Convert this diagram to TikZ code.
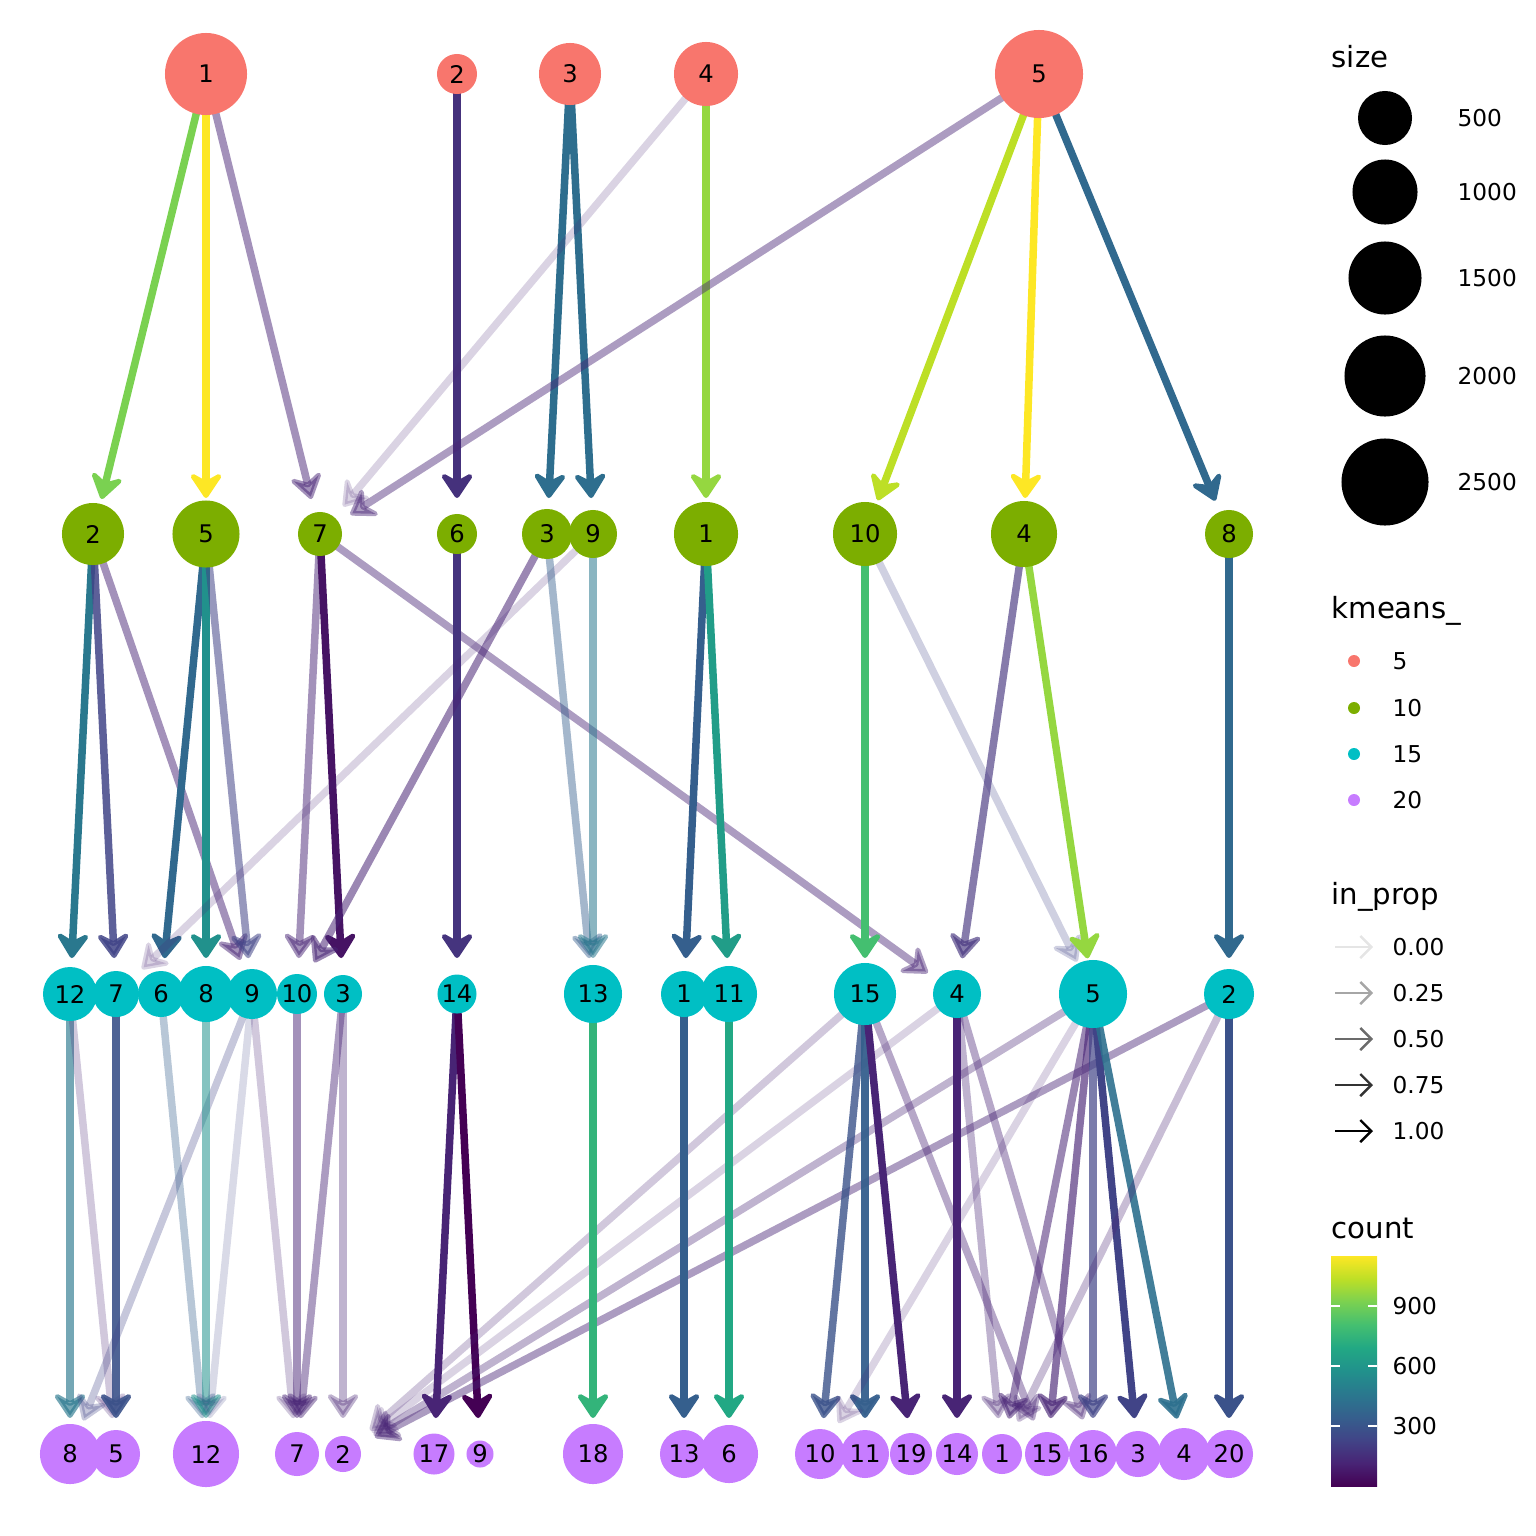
\documentclass[tikz,border=0pt]{standalone}
\usepackage{fontspec}
\setmainfont{DejaVu Sans}
\usetikzlibrary{arrows.meta,backgrounds}

\definecolor{kfive}{HTML}{F8766D}
\definecolor{kten}{HTML}{7CAE00}
\definecolor{kfifteen}{HTML}{00BFC4}
\definecolor{ktwenty}{HTML}{C77CFF}
% viridis samples, 0.0 .. 1.0
\definecolor{vA}{HTML}{440154}
\definecolor{vB}{HTML}{482475}
\definecolor{vC}{HTML}{414487}
\definecolor{vD}{HTML}{355F8D}
\definecolor{vE}{HTML}{2A788E}
\definecolor{vF}{HTML}{21918C}
\definecolor{vG}{HTML}{22A884}
\definecolor{vH}{HTML}{44BF70}
\definecolor{vI}{HTML}{7AD151}
\definecolor{vJ}{HTML}{BDDF26}
\definecolor{vK}{HTML}{FDE725}
\pgfdeclareverticalshading{viridis}{100bp}{color(0bp)=(vA); color(25bp)=(vA);
  color(30bp)=(vB); color(35bp)=(vC); color(40bp)=(vD); color(45bp)=(vE);
  color(50bp)=(vF); color(55bp)=(vG); color(60bp)=(vH); color(65bp)=(vI);
  color(70bp)=(vJ); color(75bp)=(vK); color(100bp)=(vK)}

\begin{document}
\begin{tikzpicture}[x=0.01cm,y=-0.01cm]
    \tikzstyle{clus} = [circle,inner sep=0pt,font=\fontsize{6.9pt}{8pt}\selectfont]
    \tikzstyle{kA} = [clus,fill=kfive]
    \tikzstyle{kB} = [clus,fill=kten]
    \tikzstyle{kC} = [clus,fill=kfifteen]
    \tikzstyle{kD} = [clus,fill=ktwenty]
    \tikzstyle{edge} = [line width=0.075cm,shorten >=0.36cm,
                        -{Stealth[length=0.30cm,width=0.40cm,inset=0.11cm,round]}]
    \tikzstyle{ttl} = [anchor=west,inner sep=0pt,font=\fontsize{8.3pt}{10pt}\selectfont]
    \tikzstyle{lab} = [anchor=west,inner sep=0pt,font=\fontsize{6.6pt}{8pt}\selectfont]
    \tikzstyle{key} = [line width=0.7pt,-{Straight Barb[length=0.11cm,width=0.22cm]}]
    \useasboundingbox (0,0) rectangle (1536,1536);
    % kmeans_5
    \node[kA,minimum size=.82cm] (a1) at (206,74) {1};
    \node[kA,minimum size=.40cm] (a2) at (457,74) {2};
    \node[kA,minimum size=.62cm] (a3) at (570,74) {3};
    \node[kA,minimum size=.64cm] (a4) at (706,74) {4};
    \node[kA,minimum size=.88cm] (a5) at (1039,74) {5};
    % kmeans_10
    \node[kB,minimum size=.62cm] (b2) at (93,534) {2};
    \node[kB,minimum size=.67cm] (b5) at (206,534) {5};
    \node[kB,minimum size=.44cm] (b7) at (320,534) {7};
    \node[kB,minimum size=.40cm] (b6) at (457,534) {6};
    \node[kB,minimum size=.50cm] (b3) at (547,534) {3};
    \node[kB,minimum size=.48cm] (b9) at (593,534) {9};
    \node[kB,minimum size=.64cm] (b1) at (706,534) {1};
    \node[kB,minimum size=.64cm] (b10) at (865,534) {10};
    \node[kB,minimum size=.66cm] (b4) at (1024,534) {4};
    \node[kB,minimum size=.48cm] (b8) at (1229,534) {8};
    % kmeans_15
    \node[kC,minimum size=.54cm] (c12) at (70,994) {12};
    \node[kC,minimum size=.46cm] (c7) at (116,994) {7};
    \node[kC,minimum size=.46cm] (c6) at (161,994) {6};
    \node[kC,minimum size=.56cm] (c8) at (206,994) {8};
    \node[kC,minimum size=.50cm] (c9) at (252,994) {9};
    \node[kC,minimum size=.40cm] (c10) at (297,994) {10};
    \node[kC,minimum size=.38cm] (c3) at (343,994) {3};
    \node[kC,minimum size=.39cm] (c14) at (457,994) {14};
    \node[kC,minimum size=.58cm] (c13) at (593,994) {13};
    \node[kC,minimum size=.46cm] (c1) at (684,994) {1};
    \node[kC,minimum size=.56cm] (c11) at (729,994) {11};
    \node[kC,minimum size=.62cm] (c15) at (865,994) {15};
    \node[kC,minimum size=.48cm] (c4) at (957,994) {4};
    \node[kC,minimum size=.68cm] (c5) at (1093,994) {5};
    \node[kC,minimum size=.50cm] (c2) at (1229,994) {2};
    % kmeans_20
    \node[kD,minimum size=.60cm] (d8) at (70,1454) {8};
    \node[kD,minimum size=.48cm] (d5) at (116,1454) {5};
    \node[kD,minimum size=.66cm] (d12) at (206,1454) {12};
    \node[kD,minimum size=.44cm] (d7) at (297,1454) {7};
    \node[kD,minimum size=.36cm] (d2) at (343,1454) {2};
    \node[kD,minimum size=.41cm] (d17) at (434,1454) {17};
    \node[kD,minimum size=.27cm] (d9) at (480,1454) {9};
    \node[kD,minimum size=.60cm] (d18) at (593,1454) {18};
    \node[kD,minimum size=.48cm] (d13) at (684,1454) {13};
    \node[kD,minimum size=.58cm] (d6) at (729,1454) {6};
    \node[kD,minimum size=.50cm] (d10) at (820,1454) {10};
    \node[kD,minimum size=.48cm] (d11) at (865,1454) {11};
    \node[kD,minimum size=.42cm] (d19) at (911,1454) {19};
    \node[kD,minimum size=.42cm] (d14) at (957,1454) {14};
    \node[kD,minimum size=.40cm] (d1) at (1002,1454) {1};
    \node[kD,minimum size=.44cm] (d15) at (1047,1454) {15};
    \node[kD,minimum size=.48cm] (d16) at (1093,1454) {16};
    \node[kD,minimum size=.46cm] (d3) at (1138,1454) {3};
    \node[kD,minimum size=.52cm] (d4) at (1184,1454) {4};
    \node[kD,minimum size=.48cm] (d20) at (1229,1454) {20};
    \begin{pgfonlayer}{background}
    % 5 -> 10
    \draw[edge,vI] (a1.center) -- (b2.center);
    \draw[edge,vK] (a1.center) -- (b5.center);
    \draw[edge,vB,opacity=.5] (a1.center) -- (b7.center);
    \draw[edge,vB!60!vC] (a2.center) -- (b6.center);
    \draw[edge,vE!60!vD] (a3.center) -- (b3.center);
    \draw[edge,vE!60!vD] (a3.center) -- (b9.center);
    \draw[edge,vB,opacity=.2] (a4.center) -- (b7.center);
    \draw[edge,vJ!40!vI] (a4.center) -- (b1.center);
    \draw[edge,vB,opacity=.45] (a5.center) -- (b7.center);
    \draw[edge,vJ] (a5.center) -- (b10.center);
    \draw[edge,vK] (a5.center) -- (b4.center);
    \draw[edge,vD!60!vE] (a5.center) -- (b8.center);
    % 10 -> 15
    \draw[edge,vE] (b2.center) -- (c12.center);
    \draw[edge,vC,opacity=.85] (b2.center) -- (c7.center);
    \draw[edge,vB,opacity=.5] (b2.center) -- (c9.center);
    \draw[edge,vD!60!vE] (b5.center) -- (c6.center);
    \draw[edge,vF] (b5.center) -- (c8.center);
    \draw[edge,vC,opacity=.55] (b5.center) -- (c9.center);
    \draw[edge,vB,opacity=.5] (b7.center) -- (c10.center);
    \draw[edge,vA!50!vB] (b7.center) -- (c3.center);
    \draw[edge,vB,opacity=.45] (b7.center) -- (c4.center);
    \draw[edge,vB!50!vC] (b6.center) -- (c14.center);
    \draw[edge,vB,opacity=.55] (b3.center) -- (c10.center);
    \draw[edge,vB,opacity=.2] (b9.center) -- (c7.center);
    \draw[edge,vD,opacity=.45] (b3.center) -- (c13.center);
    \draw[edge,vE,opacity=.55] (b9.center) -- (c13.center);
    \draw[edge,vD] (b1.center) -- (c1.center);
    \draw[edge,vG!50!vF] (b1.center) -- (c11.center);
    \draw[edge,vH] (b10.center) -- (c15.center);
    \draw[edge,vC,opacity=.25] (b10.center) -- (c5.center);
    \draw[edge,vC!50!vB,opacity=.65] (b4.center) -- (c4.center);
    \draw[edge,vJ!40!vI] (b4.center) -- (c5.center);
    \draw[edge,vD!60!vE] (b8.center) -- (c2.center);
    % 15 -> 20
    \draw[edge,vE,opacity=.65] (c12.center) -- (d8.center);
    \draw[edge,vB,opacity=.25] (c12.center) -- (d5.center);
    \draw[edge,vC!50!vD,opacity=.9] (c7.center) -- (d5.center);
    \draw[edge,vC,opacity=.3] (c9.center) -- (d8.center);
    \draw[edge,vD,opacity=.35] (c6.center) -- (d12.center);
    \draw[edge,vF,opacity=.55] (c8.center) -- (d12.center);
    \draw[edge,vC,opacity=.2] (c9.center) -- (d12.center);
    \draw[edge,vB,opacity=.25] (c9.center) -- (d7.center);
    \draw[edge,vB,opacity=.5] (c10.center) -- (d7.center);
    \draw[edge,vB,opacity=.45] (c3.center) -- (d7.center);
    \draw[edge,vB,opacity=.35] (c3.center) -- (d2.center);
    \draw[edge,vB] (c14.center) -- (d17.center);
    \draw[edge,vA] (c14.center) -- (d9.center);
    \draw[edge,vB,opacity=.25] (c15.center) -- (d2.center);
    \draw[edge,vB,opacity=.2] (c4.center) -- (d2.center);
    \draw[edge,vB,opacity=.35] (c5.center) -- (d2.center);
    \draw[edge,vB,opacity=.45] (c2.center) -- (d2.center);
    \draw[edge,vH!50!vG] (c13.center) -- (d18.center);
    \draw[edge,vD] (c1.center) -- (d13.center);
    \draw[edge,vG] (c11.center) -- (d6.center);
    \draw[edge,vD!50!vC,opacity=.8] (c15.center) -- (d10.center);
    \draw[edge,vD,opacity=.95] (c15.center) -- (d11.center);
    \draw[edge,vB] (c15.center) -- (d19.center);
    \draw[edge,vB,opacity=.4] (c15.center) -- (d15.center);
    \draw[edge,vB,opacity=.2] (c5.center) -- (d10.center);
    \draw[edge,vB] (c4.center) -- (d14.center);
    \draw[edge,vB,opacity=.35] (c4.center) -- (d1.center);
    \draw[edge,vB,opacity=.4] (c4.center) -- (d16.center);
    \draw[edge,vB,opacity=.55] (c5.center) -- (d1.center);
    \draw[edge,vB,opacity=.65] (c5.center) -- (d15.center);
    \draw[edge,vC,opacity=.7] (c5.center) -- (d16.center);
    \draw[edge,vC] (c5.center) -- (d3.center);
    \draw[edge,vE!70!vD,opacity=.9] (c5.center) -- (d4.center);
    \draw[edge,vB,opacity=.3] (c2.center) -- (d1.center);
    \draw[edge,vC!50!vD] (c2.center) -- (d20.center);
    \end{pgfonlayer}
    % legend: size
    \node[ttl] (sizettl) at (1331,57) {size};
    \node[circle,fill=black,inner sep=0pt,minimum size=.54cm] (s500) at (1385,118) {};
    \node[circle,fill=black,inner sep=0pt,minimum size=.65cm] (s1000) at (1385,192) {};
    \node[circle,fill=black,inner sep=0pt,minimum size=.73cm] (s1500) at (1385,278) {};
    \node[circle,fill=black,inner sep=0pt,minimum size=.81cm] (s2000) at (1385,376) {};
    \node[circle,fill=black,inner sep=0pt,minimum size=.87cm] (s2500) at (1385,482) {};
    \node[lab] at (1457,118) {500};
    \node[lab] at (1457,192) {1000};
    \node[lab] at (1457,278) {1500};
    \node[lab] at (1457,376) {2000};
    \node[lab] at (1457,482) {2500};
    % legend: kmeans_
    \node[ttl] (kmttl) at (1331,611) {kmeans\_};
    \node[circle,fill=kfive,inner sep=0pt,minimum size=.12cm] (m5) at (1354,661) {};
    \node[circle,fill=kten,inner sep=0pt,minimum size=.12cm] (m10) at (1354,708) {};
    \node[circle,fill=kfifteen,inner sep=0pt,minimum size=.12cm] (m15) at (1354,754) {};
    \node[circle,fill=ktwenty,inner sep=0pt,minimum size=.12cm] (m20) at (1354,800) {};
    \node[lab] at (1392,661) {5};
    \node[lab] at (1392,708) {10};
    \node[lab] at (1392,754) {15};
    \node[lab] at (1392,800) {20};
    % legend: in_prop
    \node[ttl] (ipttl) at (1331,897) {in\_prop};
    \foreach \y/\g/\v in {947/black!10/0.00,993/black!35/0.25,1039/black!58/0.50,
                          1085/black!80/0.75,1131/black/1.00} {
        \coordinate (k0) at (1335,\y);
        \coordinate (k1) at (1373,\y);
        \draw[key,\g] (k0) -- (k1);
        \node[lab] at (1392,\y) {\v};
    }
    % legend: count
    \node[ttl] (cttl) at (1331,1228) {count};
    \shade[shading=viridis] (1331,1256) rectangle (1377,1486);
    \foreach \y/\v in {1306/900,1366/600,1426/300} {
        \draw[white,line width=0.5pt] (1331,\y) -- (1340,\y) (1368,\y) -- (1377,\y);
        \node[lab] at (1392,\y) {\v};
    }
\end{tikzpicture}
\end{document}
